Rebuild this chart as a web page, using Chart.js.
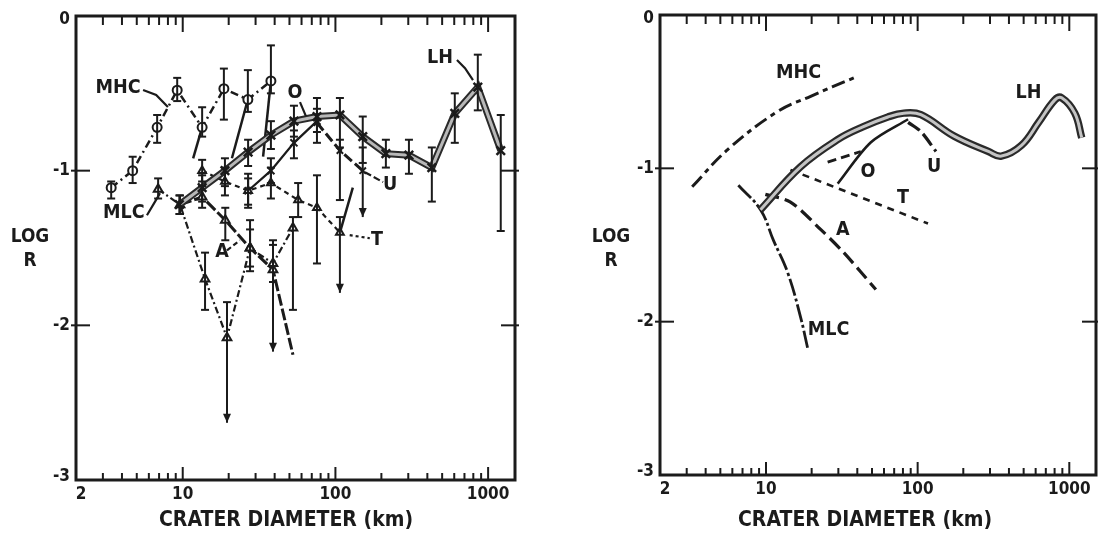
<!DOCTYPE html>
<html><head><meta charset="utf-8">
<script src="https://cdn.jsdelivr.net/npm/chart.js@4/dist/chart.umd.min.js"></script>
<style>
html,body{margin:0;padding:0;background:#fff;}
#wrap{position:relative;width:1098px;height:535px;overflow:hidden;}
canvas{position:absolute;top:0;}
</style></head><body>
<div id="wrap">
<canvas id="left" width="549" height="535" style="left:0;width:549px;height:535px"></canvas>
<canvas id="right" width="549" height="535" style="left:549px;width:549px;height:535px"></canvas>
</div>
<script>
// ---------- axes ----------
const X_MIN = 2, X_MAX = 1500, Y_MIN = -3, Y_MAX = 0;
const xTickValues = [2, 10, 100, 1000];
const xTickLabels = ['2', '10', '100', '1000'];
const yTickValues = [0, -1, -2, -3];
const yTickLabels = ['0', '-1', '-2', '-3'];
const xMinorTicks = [3,4,5,6,7,8,9,20,30,40,50,60,70,80,90,200,300,400,500,600,700,800,900];
const xMajorTicks = [10, 100, 1000];
const yMajorTicks = [-1, -2];
const xTitle = 'CRATER DIAMETER (km)';
const yTitle1 = 'LOG', yTitle2 = 'R';

// ---------- left panel data ----------
const L_MHC_x  = [3.4, 4.7, 6.8, 9.2, 13.4, 18.6, 26.7, 37.8];
const L_MHC_y  = [-1.11, -1.00, -0.72, -0.48, -0.72, -0.47, -0.54, -0.42];
const L_MHC_lo = [-1.18, -1.08, -0.82, -0.55, -0.78, -0.67, -0.62, -0.50];
const L_MHC_hi = [-1.07, -0.91, -0.64, -0.40, -0.59, -0.34, -0.35, -0.19];

const L_MLC_x  = [6.9, 9.6, 14, 19.5, 27.6, 39, 52.7];
const L_MLC_y  = [-1.12, -1.22, -1.70, -2.08, -1.50, -1.60, -1.37];
const L_MLC_lo = [-1.18, -1.28, -1.90, -2.63, -1.62, -1.72, -1.90];
const L_MLC_hi = [-1.05, -1.16, -1.53, -1.85, -1.38, -1.48, -1.30];
const L_MLC_arrow = [0, 0, 0, 1, 0, 0, 0];

const L_A_x  = [9.6, 13.4, 19, 27.6, 39, 52.7];
const L_A_y  = [-1.22, -1.17, -1.32, -1.50, -1.64, -2.19];
const L_A_lo = [null, -1.24, -1.45, -1.65, -2.17, null];
const L_A_hi = [null, -1.10, -1.24, -1.32, -1.45, null];
const L_A_arrow = [0, 0, 0, 0, 1, 0];

const L_T_x  = [13.4, 18.9, 26.8, 37.8, 57, 75.7, 107];
const L_T_y  = [-1.00, -1.07, -1.13, -1.08, -1.19, -1.24, -1.40];
const L_T_lo = [-1.07, -1.16, -1.24, -1.18, -1.30, -1.60, -1.79];
const L_T_hi = [-0.93, -0.98, -1.02, -0.98, -1.08, -1.03, -1.30];
const L_T_arrow = [0, 0, 0, 0, 0, 0, 1];

const L_O_x  = [26.8, 37.8, 53.5, 75.7];
const L_O_y  = [-1.13, -1.00, -0.82, -0.68];
const L_O_lo = [-1.22, -1.08, -0.92, -0.75];
const L_O_hi = [-1.05, -0.92, -0.74, -0.60];

const L_U_x  = [75.7, 107, 151];
const L_U_y  = [-0.69, -0.87, -1.00];
const L_U_lo = [null, -1.19, -1.30];
const L_U_hi = [null, -0.80, -0.85];
const L_U_arrow = [0, 0, 1];

const L_LH_x  = [9.5, 13.4, 18.9, 26.8, 37.8, 53.5, 75.7, 107, 151, 214, 303, 428, 605, 856, 1210];
const L_LH_y  = [-1.22, -1.11, -1.00, -0.88, -0.77, -0.68, -0.65, -0.64, -0.78, -0.89, -0.90, -0.98, -0.63, -0.46, -0.87];
const L_LH_lo = [-1.28, -1.20, -1.10, -0.97, -0.86, -0.78, -0.82, -0.85, -0.95, -0.98, -1.02, -1.20, -0.82, -0.61, -1.39];
const L_LH_hi = [-1.16, -1.03, -0.92, -0.80, -0.68, -0.58, -0.53, -0.53, -0.65, -0.80, -0.80, -0.85, -0.50, -0.25, -0.64];

// thin solid connecting strokes (from, to)
const L_conn_x1 = [13.4, 26.7, 37.8, 107];
const L_conn_y1 = [-0.72, -0.54, -0.42, -1.40];
const L_conn_x2 = [11.7, 21.0, 33.6, 130];
const L_conn_y2 = [-0.92, -0.92, -0.91, -1.11];

const L_labelText = ['MHC', 'MLC', 'A', 'T', 'U', 'O', 'LH'];
const L_labelX    = [3.77, 4.12, 18.1, 187, 228, 54.3, 484];
const L_labelY    = [-0.466, -1.275, -1.527, -1.45, -1.094, -0.498, -0.272];
const L_leaders = [
  {pts: [[5.5,-0.479],[6.7,-0.511],[8.0,-0.589]], dash: []},
  {pts: [[5.83,-1.288],[6.5,-1.21],[7.1,-1.146]], dash: []},
  {pts: [[19.5,-1.515],[23.7,-1.45]], dash: [5,3]},
  {pts: [[124,-1.417],[168,-1.437]], dash: [3,3]},
  {pts: [[156,-1.01],[205,-1.074]], dash: [7,3]},
  {pts: [[58.6,-0.557],[64.1,-0.647]], dash: []},
  {pts: [[625,-0.285],[706,-0.337],[796,-0.414]], dash: []}
];

// ---------- right panel data ----------
const R_MHC_x = [3.26, 5.56, 11.9, 19.7, 37.9];
const R_MHC_y = [-1.12, -0.88, -0.63, -0.53, -0.41];
const R_MLC_x = [6.57, 9.2, 11.2, 13.9, 16.9, 18.8];
const R_MLC_y = [-1.11, -1.27, -1.47, -1.68, -1.97, -2.17];
const R_LH_x = [9.2, 16.9, 30, 43.5, 63.7, 81, 105, 174, 293, 357, 484, 628, 801, 891, 1087, 1208];
const R_LH_y = [-1.27, -0.99, -0.81, -0.73, -0.665, -0.64, -0.65, -0.79, -0.89, -0.92, -0.85, -0.70, -0.555, -0.54, -0.64, -0.80];
const R_O_x = [29.7, 49.2, 86.5];
const R_O_y = [-1.10, -0.83, -0.68];
const R_O2_x = [25.5, 42.2];
const R_O2_y = [-0.96, -0.89];
const R_U_x = [86.5, 105, 132];
const R_U_y = [-0.70, -0.76, -0.89];
const R_T_x = [14.5, 117];
const R_T_y = [-1.01, -1.36];
const R_A_x = [9.9, 14.5, 23, 32.6, 53];
const R_A_y = [-1.17, -1.22, -1.40, -1.55, -1.79];

const R_labelText = ['MHC', 'LH', 'O', 'U', 'T', 'A', 'MLC'];
const R_labelX    = [16.4, 539, 47, 128.5, 80.1, 32.1, 25.9];
const R_labelY    = [-0.378, -0.509, -1.024, -0.99, -1.19, -1.40, -2.05];

// ---------- helpers ----------
const INK = '#1b1b1b';
function pts(xs, ys) { return xs.map((x, i) => ({x: x, y: ys[i]})); }
function series(xs, ys, o) {
  return Object.assign({
    data: pts(xs, ys), borderColor: INK, backgroundColor: '#fff', borderWidth: 2,
    pointRadius: 0, pointBorderColor: INK, pointBackgroundColor: '#fff', pointBorderWidth: 2,
    fill: false, clip: false, tension: 0, order: 5
  }, o || {});
}
function txt(ctx, s, x, y, size, sx, align) {
  ctx.save();
  ctx.font = 'bold ' + size + 'px "DejaVu Sans", "Liberation Sans", sans-serif';
  ctx.fillStyle = INK;
  ctx.translate(x, y); ctx.scale(sx, 1);
  ctx.textAlign = align || 'center'; ctx.textBaseline = 'middle';
  ctx.fillText(s, 0, 0);
  ctx.restore();
}
function seg(ctx, x1, y1, x2, y2) { ctx.beginPath(); ctx.moveTo(x1, y1); ctx.lineTo(x2, y2); ctx.stroke(); }

function makeDecor(cfg) {
  return {
    id: 'decor',
    afterDatasetsDraw(chart) {
      const ctx = chart.ctx, xs = chart.scales.x, ys = chart.scales.y;
      ctx.save();
      ctx.strokeStyle = INK; ctx.fillStyle = INK; ctx.lineWidth = 2; ctx.setLineDash([]);
      chart.data.datasets.forEach((ds, i) => {
        if (!ds.errLo) return;
        const meta = chart.getDatasetMeta(i);
        ds.errLo.forEach((lo, j) => {
          const hi = ds.errHi[j];
          if (lo == null || hi == null) return;
          const px = meta.data[j].x;
          const y1 = ys.getPixelForValue(lo), y2 = ys.getPixelForValue(hi);
          const arrow = ds.errArrow && ds.errArrow[j];
          ctx.lineWidth = 2;
          seg(ctx, px, y1, px, y2);
          seg(ctx, px - 4, y2, px + 4, y2);
          if (arrow) {
            ctx.beginPath(); ctx.moveTo(px - 4, y1 - 9); ctx.lineTo(px + 4, y1 - 9); ctx.lineTo(px, y1); ctx.closePath(); ctx.fill();
          } else {
            seg(ctx, px - 4, y1, px + 4, y1);
          }
        });
      });
      (cfg.leaders || []).forEach(l => {
        ctx.setLineDash(l.dash); ctx.lineWidth = 2.2;
        ctx.beginPath();
        l.pts.forEach((p, k) => {
          const px = xs.getPixelForValue(p[0]), py = ys.getPixelForValue(p[1]);
          if (k === 0) ctx.moveTo(px, py); else ctx.lineTo(px, py);
        });
        ctx.stroke();
      });
      ctx.setLineDash([]);
      cfg.labelText.forEach((s, k) => {
        txt(ctx, s, xs.getPixelForValue(cfg.labelX[k]), ys.getPixelForValue(cfg.labelY[k]), 20, 0.88);
      });
      ctx.restore();
    },
    afterDraw(chart) {
      const ctx = chart.ctx, xs = chart.scales.x, ys = chart.scales.y, a = chart.chartArea;
      ctx.save();
      ctx.strokeStyle = INK; ctx.setLineDash([]);
      ctx.lineWidth = 3;
      ctx.strokeRect(a.left, a.top, a.right - a.left, a.bottom - a.top);
      ctx.lineWidth = 2;
      xMinorTicks.forEach(v => {
        const px = xs.getPixelForValue(v);
        seg(ctx, px, a.bottom, px, a.bottom - 7);
        seg(ctx, px, a.top, px, a.top + 9);
      });
      xMajorTicks.forEach(v => {
        const px = xs.getPixelForValue(v);
        seg(ctx, px, a.bottom, px, a.bottom - 13);
        seg(ctx, px, a.top, px, a.top + 16);
      });
      yMajorTicks.forEach(v => {
        const py = ys.getPixelForValue(v);
        seg(ctx, a.left - 5, py, a.left + 14, py);
        seg(ctx, a.right - 14, py, a.right + 4, py);
      });
      yTickValues.forEach((v, k) => {
        let py = ys.getPixelForValue(v);
        if (v === Y_MAX) py += 3;
        if (v === Y_MIN) py -= 4;
        txt(ctx, yTickLabels[k], a.left - 6, py, 18, 0.85, 'right');
      });
      xTickValues.forEach((v, k) => {
        let px = xs.getPixelForValue(v);
        if (v === X_MIN) px += 5;
        txt(ctx, xTickLabels[k], px, a.bottom + 14, 18, 0.85, 'center');
      });
      txt(ctx, xTitle, cfg.titleX, 521, 21, 0.9, 'center');
      txt(ctx, yTitle1, cfg.yTitleX, 237, 20, 0.85, 'center');
      txt(ctx, yTitle2, cfg.yTitleX, 261, 20, 0.85, 'center');
      ctx.restore();
    }
  };
}

function buildChart(id, datasets, pad, cfg) {
  return new Chart(document.getElementById(id), {
    type: 'line',
    data: { datasets: datasets },
    options: {
      responsive: false, animation: false, devicePixelRatio: 1,
      layout: { padding: pad },
      plugins: { legend: { display: false }, tooltip: { enabled: false } },
      scales: {
        x: { type: 'logarithmic', min: X_MIN, max: X_MAX, display: false },
        y: { type: 'linear', min: Y_MIN, max: Y_MAX, display: false }
      }
    },
    plugins: [makeDecor(cfg)]
  });
}

// ---------- left chart ----------
const leftSets = [
  series(L_LH_x, L_LH_y, { borderWidth: 3, borderColor: '#b8b8b8', pointStyle: 'crossRot', pointRadius: 6, pointBorderWidth: 2.5, order: 1,
    errLo: L_LH_lo, errHi: L_LH_hi }),
  series(L_LH_x, L_LH_y, { borderWidth: 7, borderColor: '#2a2a2a', order: 2 }),
  series(L_MHC_x, L_MHC_y, { borderWidth: 2.5, borderDash: [8, 4, 2, 4], pointStyle: 'circle', pointRadius: 4.5,
    errLo: L_MHC_lo, errHi: L_MHC_hi }),
  series(L_MLC_x, L_MLC_y, { borderWidth: 2.2, borderDash: [7, 3, 2, 3], pointStyle: 'triangle', pointRadius: 5,
    errLo: L_MLC_lo, errHi: L_MLC_hi, errArrow: L_MLC_arrow }),
  series(L_A_x, L_A_y, { borderWidth: 3, borderDash: [12, 3], pointStyle: 'triangle', pointRadius: [0, 5, 5, 5, 5, 0],
    errLo: L_A_lo, errHi: L_A_hi, errArrow: L_A_arrow }),
  series(L_T_x, L_T_y, { borderWidth: 2.2, borderDash: [5, 4], pointStyle: 'triangle', pointRadius: 4.5,
    errLo: L_T_lo, errHi: L_T_hi, errArrow: L_T_arrow }),
  series(L_O_x, L_O_y, { borderWidth: 2.2, pointStyle: 'crossRot', pointRadius: 5,
    errLo: L_O_lo, errHi: L_O_hi }),
  series(L_U_x, L_U_y, { borderWidth: 3, borderDash: [10, 4], pointStyle: 'crossRot', pointRadius: 4.5,
    errLo: L_U_lo, errHi: L_U_hi, errArrow: L_U_arrow })
];
L_conn_x1.forEach((x, k) => {
  leftSets.push(series([x, L_conn_x2[k]], [L_conn_y1[k], L_conn_y2[k]], { borderWidth: 2.5 }));
});
buildChart('left', leftSets, { left: 76, right: 34, top: 16, bottom: 55 },
  { labelText: L_labelText, labelX: L_labelX, labelY: L_labelY, leaders: L_leaders, titleX: 286, yTitleX: 30 });

// ---------- right chart ----------
const rightSets = [
  series(R_LH_x, R_LH_y, { borderWidth: 3, borderColor: '#c4c4c4', tension: 0.4, order: 1 }),
  series(R_LH_x, R_LH_y, { borderWidth: 7.5, borderColor: '#2a2a2a', tension: 0.4, order: 2 }),
  series(R_MHC_x, R_MHC_y, { borderWidth: 3, borderDash: [14, 5, 5, 5], tension: 0.4 }),
  series(R_MLC_x, R_MLC_y, { borderWidth: 2.8, borderDash: [18, 3, 3, 3], tension: 0.4 }),
  series(R_O_x, R_O_y, { borderWidth: 2.6, tension: 0.3 }),
  series(R_O2_x, R_O2_y, { borderWidth: 2.8, borderDash: [9, 5] }),
  series(R_U_x, R_U_y, { borderWidth: 3.2, borderDash: [14, 5], tension: 0.3 }),
  series(R_T_x, R_T_y, { borderWidth: 2.6, borderDash: [7, 6] }),
  series(R_A_x, R_A_y, { borderWidth: 3.2, borderDash: [14, 6], tension: 0.3 })
];
buildChart('right', rightSets, { left: 111, right: 2, top: 15, bottom: 60 },
  { labelText: R_labelText, labelX: R_labelX, labelY: R_labelY, leaders: [], titleX: 316, yTitleX: 62 });
</script>
</body></html>
